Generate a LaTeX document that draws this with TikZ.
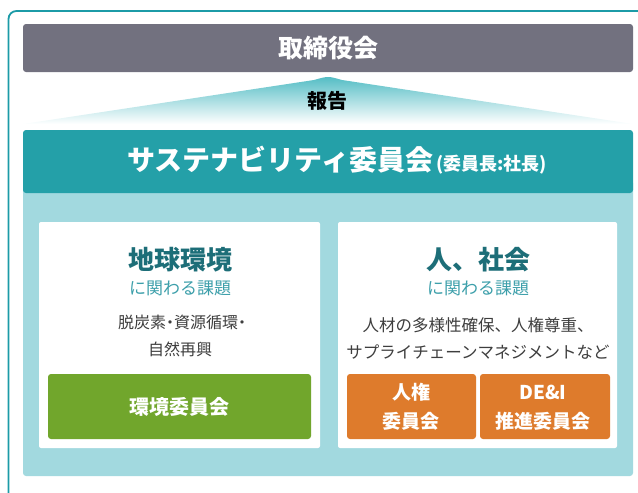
\documentclass[tikz,border=0pt]{standalone}
\usepackage{fontspec}
\newfontfamily\jp{Noto Sans CJK JP}
\newfontfamily\jpp[RawFeature=+palt]{Noto Sans CJK JP}
\definecolor{frameteal}{HTML}{1C9BA7}
\definecolor{barGray}{HTML}{72717F}
\definecolor{headTeal}{HTML}{24A0A8}
\definecolor{lightBlue}{HTML}{A2D9DF}
\definecolor{titleTeal}{HTML}{1D6E78}
\definecolor{subTeal}{HTML}{3C9FAA}
\definecolor{bodyGray}{HTML}{3E3E3E}
\definecolor{envGreen}{HTML}{71A62C}
\definecolor{hrOrange}{HTML}{DE7B2C}
\definecolor{triTeal}{HTML}{52BCC4}
\begin{document}
\begin{tikzpicture}[x=1pt,y=-1pt,
  fs/.style={font=\jp\bfseries\fontsize{#1}{#1}\selectfont},
  fr/.style={font=\jp\fontsize{#1}{#1}\selectfont},
  frp/.style={font=\jpp\fontsize{#1}{#1}\selectfont},
  txt/.style={inner sep=0pt, anchor=center},
  whitebox/.style={fill=white, rounded corners=2, draw=none},
  commbox/.style={rounded corners=3, draw=none, inner sep=0pt}]
\useasboundingbox (0,0) rectangle (638,493);
% outer frame
\draw[frameteal, line width=1.8, rounded corners=8] (8.5,520) -- (8.5,11) -- (660,11);
% board bar
\node[fill=barGray, rounded corners=3, minimum width=610, minimum height=48, inner sep=0pt, text=white, fs=25] (board) at (328,48) {取締役会};
% report triangle
\shade[top color=triTeal, bottom color=white] (23,124) -- (314,80) .. controls (328,76) .. (342,80) -- (633,124) -- cycle;
\node[txt, fs=20, text=black] (report) at (327,101) {報告};
% light blue panel
\fill[lightBlue, rounded corners=3] (23,180) rectangle (633,476);
% header
\node[fill=headTeal, rounded corners=3, minimum width=610, minimum height=63, inner sep=0pt] (header) at (328,161.5) {};
\node[txt, text=white, anchor=base] (sust) at (337,170) {{\jp\bfseries\fontsize{28}{28}\selectfont サステナビリティ委員会}\hspace{3pt}{\jp\bfseries\fontsize{18}{18}\selectfont (委員長:社長)}};
% white boxes
\node[whitebox, minimum width=281, minimum height=226, inner sep=0pt] (leftbox) at (179.5,335) {};
\node[whitebox, minimum width=279, minimum height=226, inner sep=0pt] (rightbox) at (477.5,335) {};
% left texts
\node[txt, fs=26, text=titleTeal] (earth) at (180,260) {地球環境};
\node[txt, fr=17, text=subTeal] (earthsub) at (180,288) {に関わる課題};
\node[txt, frp=16, text=bodyGray] (earthb1) at (182,322) {脱炭素・資源循環・};
\node[txt, fr=16, text=bodyGray] (earthb2) at (180,349) {自然再興};
% right texts
\node[txt, fs=26, text=titleTeal] (people) at (478,260) {人、社会};
\node[txt, fr=17, text=subTeal] (peoplesub) at (478,288) {に関わる課題};
\node[txt, fr=16.5, text=bodyGray] (peopleb1) at (478,325) {人材の多様性確保、人権尊重、};
\node[txt, fr=16.5, text=bodyGray] (peopleb2) at (478,352) {サプライチェーンマネジメントなど};
% committees
\node[commbox, fill=envGreen, minimum width=263, minimum height=65] (env) at (179.5,406.5) {};
\node[txt, fs=20, text=white] (envtxt) at (179.5,407) {環境委員会};
\node[commbox, fill=hrOrange, minimum width=129, minimum height=65] (hr) at (411.5,406.5) {};
\node[txt, fs=19, text=white] (hr1) at (411,392) {人権};
\node[txt, fs=19, text=white] (hr2) at (411,421) {委員会};
\node[commbox, fill=hrOrange, minimum width=130, minimum height=65] (dei) at (545,406.5) {};
\node[txt, fs=19, text=white] (dei1) at (543,392) {DE\&I};
\node[txt, fs=19, text=white] (dei2) at (543,421) {推進委員会};
\end{tikzpicture}
\end{document}
